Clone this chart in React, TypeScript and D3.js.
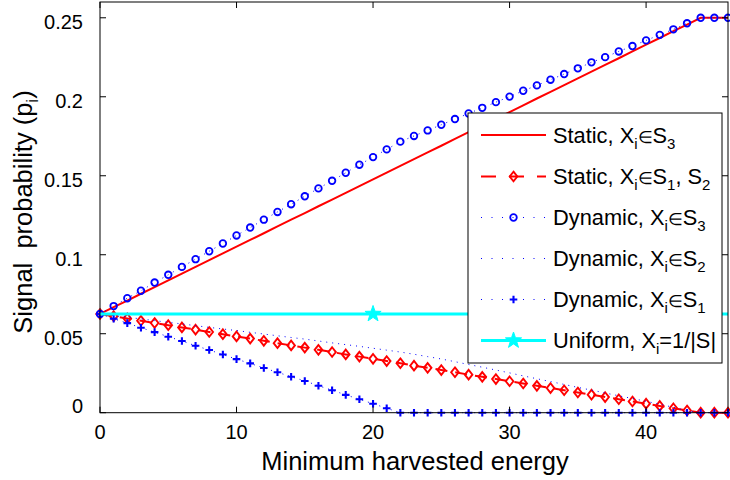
import React from "react";
import * as d3 from "d3";

const xs = d3.range(0, 47);
const staticS3 = [0.0625,0.0668,0.071,0.0753,0.0795,0.0838,0.0881,0.0923,0.0966,0.1009,0.1051,0.1094,0.1136,0.1179,0.1222,0.1264,0.1307,0.1349,0.1392,0.1435,0.1477,0.152,0.1563,0.1605,0.1648,0.169,0.1733,0.1776,0.1818,0.1861,0.1903,0.1946,0.1989,0.2031,0.2074,0.2116,0.2159,0.2202,0.2244,0.2287,0.233,0.2372,0.2415,0.2457,0.25,0.25,0.25];
const staticS12 = [0.0625,0.0611,0.0597,0.0582,0.0568,0.0554,0.054,0.0526,0.0511,0.0497,0.0483,0.0469,0.0455,0.044,0.0426,0.0412,0.0398,0.0384,0.0369,0.0355,0.0341,0.0327,0.0313,0.0298,0.0284,0.027,0.0256,0.0241,0.0227,0.0213,0.0199,0.0185,0.017,0.0156,0.0142,0.0128,0.0114,0.0099,0.0085,0.0071,0.0057,0.0043,0.0028,0.0014,0,0,0];
const dynS3 = [0.0625,0.0675,0.0725,0.0772,0.0824,0.0873,0.0923,0.0972,0.1022,0.1071,0.1122,0.1172,0.1222,0.1271,0.132,0.137,0.142,0.1468,0.1519,0.157,0.1618,0.1667,0.1716,0.1752,0.1787,0.1823,0.1859,0.1894,0.193,0.1966,0.2001,0.2038,0.2072,0.2108,0.2144,0.218,0.2218,0.2251,0.2287,0.2321,0.2357,0.2392,0.2427,0.2465,0.25,0.25,0.25];
const dynS2 = [0.0625,0.0615,0.0604,0.0594,0.0583,0.0572,0.0562,0.0551,0.054,0.053,0.052,0.0509,0.0498,0.0487,0.0476,0.0466,0.0454,0.0442,0.0431,0.042,0.0408,0.0396,0.0384,0.037,0.0355,0.034,0.0323,0.0305,0.0288,0.027,0.0252,0.0233,0.0215,0.0197,0.0179,0.016,0.0143,0.0125,0.0107,0.009,0.0072,0.0054,0.0034,0.0012,0,0,0];
const dynS1 = [0.0625,0.0595,0.0567,0.0538,0.051,0.0481,0.0454,0.0424,0.0397,0.0368,0.0339,0.0312,0.0283,0.0256,0.0228,0.0201,0.0171,0.0142,0.0113,0.0085,0.0057,0.0028,0,0,0,0,0,0,0,0,0,0,0,0,0,0,0,0,0,0,0,0,0,0,0,0,0];
const uniformX = [0, 20, 46];
const uniformY = [0.0625, 0.0625, 0.0625];
const uniformMarkerX = [20];
const xTicks = [0, 10, 20, 30, 40];
const yTicks = [0, 0.05, 0.1, 0.15, 0.2, 0.25];
const yTickLabels = ["0", "0.05", "0.1", "0.15", "0.2", "0.25"];

const W = 730, H = 480;
const L = 100, R = 728, T = 2, B = 412.7;
const FONT = "Liberation Sans, Arial, Helvetica, sans-serif";
const RED = "#ff0000", BLUE = "#0000ff", CYAN = "#00ffff";

const x = d3.scaleLinear().domain([0, 46]).range([L, R]);
const y = d3.scaleLinear().domain([0, 0.26]).range([B, T]);

const lineGen = (vals: number[], xv: number[] = xs) =>
  d3.line<number>().x((_, i) => x(xv[i])).y((v) => y(v))(vals) || "";

const starPath = (() => {
  const pts: [number, number][] = [];
  for (let k = 0; k < 10; k++) {
    const r = k % 2 === 0 ? 8.5 : 3.4;
    const a = -Math.PI / 2 + (k * Math.PI) / 5;
    pts.push([r * Math.cos(a), r * Math.sin(a)]);
  }
  return "M" + pts.map((p) => p.join(",")).join("L") + "Z";
})();

const Circle = ({ cx, cy }: { cx: number; cy: number }) => (
  <circle cx={cx} cy={cy} r={3.3} fill="none" stroke={BLUE} strokeWidth={1.8} />
);
const Diamond = ({ cx, cy }: { cx: number; cy: number }) => (
  <path d={`M${cx},${cy - 4.8}L${cx + 3.8},${cy}L${cx},${cy + 4.8}L${cx - 3.8},${cy}Z`} fill="none" stroke={RED} strokeWidth={1.9} />
);
const Plus = ({ cx, cy }: { cx: number; cy: number }) => (
  <path d={`M${cx - 3.8},${cy}H${cx + 3.8}M${cx},${cy - 3.8}V${cy + 3.8}`} stroke={BLUE} strokeWidth={2.1} />
);
const Star = ({ cx, cy }: { cx: number; cy: number }) => (
  <path d={starPath} transform={`translate(${cx},${cy})`} fill={CYAN} stroke={CYAN} strokeWidth={1} />
);

const legendRows = [
  { label: ["Static, X", "i", "S", "3"], extra: null },
  { label: ["Static, X", "i", "S", "1"], extra: ", S2" },
  { label: ["Dynamic, X", "i", "S", "3"], extra: null },
  { label: ["Dynamic, X", "i", "S", "2"], extra: null },
  { label: ["Dynamic, X", "i", "S", "1"], extra: null },
];

export default function App() {
  const lx0 = 481, lx1 = 546, lmx = 513.5, tx = 553;
  const rowY = [135, 176.5, 217.5, 258.5, 299.5, 340.5];
  const fs = 21.8, sfs = 15;
  const sub = (s: string) => (
    <tspan dy={6} fontSize={sfs}>{s}</tspan>
  );
  return (
    <svg width={W} height={H} style={{ position: "absolute", left: 0, top: 0, background: "#fff" }} fontFamily={FONT}>
      <rect x={0} y={0} width={W} height={H} fill="#fff" />
      {/* series */}
      <path d={lineGen(staticS3)} fill="none" stroke={RED} strokeWidth={2} />
      <path d={lineGen(staticS12)} fill="none" stroke={RED} strokeWidth={2} strokeDasharray="12,8" />
      {xs.map((xv, i) => <Diamond key={"d" + i} cx={x(xv)} cy={y(staticS12[i])} />)}
      <path d={lineGen(dynS3)} fill="none" stroke={BLUE} strokeWidth={1} strokeDasharray="1,5" />
      {xs.map((xv, i) => <Circle key={"c" + i} cx={x(xv)} cy={y(dynS3[i])} />)}
      <path d={lineGen(dynS2)} fill="none" stroke={BLUE} strokeWidth={1} strokeDasharray="1,5" />
      <path d={lineGen(dynS1)} fill="none" stroke={BLUE} strokeWidth={1} strokeDasharray="1,5" />
      {xs.map((xv, i) => <Plus key={"p" + i} cx={x(xv)} cy={y(dynS1[i])} />)}
      <path d={lineGen(uniformY, uniformX)} fill="none" stroke={CYAN} strokeWidth={3} />
      {uniformMarkerX.map((xv, i) => <Star key={"s" + i} cx={x(xv)} cy={y(uniformY[1])} />)}

      {/* axes box */}
      <rect x={L} y={T} width={R - L} height={B - T} fill="none" stroke="#000" strokeWidth={1} />
      {xTicks.map((t) => (
        <g key={"xt" + t}>
          <line x1={x(t)} x2={x(t)} y1={B} y2={B - 6} stroke="#000" />
          <line x1={x(t)} x2={x(t)} y1={T} y2={T + 6} stroke="#000" />
          <text x={x(t)} y={439} textAnchor="middle" fontSize={20}>{t}</text>
        </g>
      ))}
      {yTicks.map((t, i) => (
        <g key={"yt" + t}>
          <line x1={L} x2={L + 6} y1={y(t)} y2={y(t)} stroke="#000" />
          <line x1={R} x2={R - 6} y1={y(t)} y2={y(t)} stroke="#000" />
          <text x={83} y={t === 0 ? 413 : y(t) + 11} textAnchor="end" fontSize={20}>{yTickLabels[i]}</text>
        </g>
      ))}
      <text x={415} y={470} textAnchor="middle" fontSize={25.5}>Minimum harvested energy</text>
      <text transform={`translate(32,${212}) rotate(-90)`} textAnchor="middle" fontSize={25.5} xmlSpace="preserve">
        Signal  probability (p<tspan dy={6} fontSize={17}>i</tspan><tspan dy={-6}>)</tspan>
      </text>

      {/* legend */}
      <rect x={468} y={113} width={254} height={250} fill="#fff" stroke="#000" strokeWidth={1} />
      <line x1={lx0} x2={lx1} y1={rowY[0]} y2={rowY[0]} stroke={RED} strokeWidth={2} />
      <line x1={lx0} x2={lx1} y1={rowY[1]} y2={rowY[1]} stroke={RED} strokeWidth={2} strokeDasharray="15,13" />
      <Diamond cx={lmx} cy={rowY[1]} />
      <line x1={lx0} x2={lx1} y1={rowY[2]} y2={rowY[2]} stroke={BLUE} strokeWidth={1} strokeDasharray="1,9.5" />
      <Circle cx={lmx} cy={rowY[2]} />
      <line x1={lx0} x2={lx1} y1={rowY[3]} y2={rowY[3]} stroke={BLUE} strokeWidth={1} strokeDasharray="1,9.5" />
      <line x1={lx0} x2={lx1} y1={rowY[4]} y2={rowY[4]} stroke={BLUE} strokeWidth={1} strokeDasharray="1,9.5" />
      <Plus cx={lmx} cy={rowY[4]} />
      <line x1={lx0} x2={lx1} y1={rowY[5]} y2={rowY[5]} stroke={CYAN} strokeWidth={3} />
      <Star cx={lmx} cy={rowY[5]} />
      {legendRows.map((r, i) => (
        <text key={"lg" + i} x={tx} y={rowY[i] + 7.5} fontSize={fs}>
          {r.label[0]}
          {sub(r.label[1])}
          <tspan dy={-6} fontSize={17}>∈</tspan>
          <tspan>{r.label[2]}</tspan>
          {sub(r.label[3])}
          {r.extra ? (
            <>
              <tspan dy={-6}>, S</tspan>
              {sub("2")}
            </>
          ) : null}
        </text>
      ))}
      <text x={tx} y={rowY[5] + 7.5} fontSize={fs}>
        Uniform, X{sub("i")}<tspan dy={-6}>=1/|S|</tspan>
      </text>
    </svg>
  );
}
